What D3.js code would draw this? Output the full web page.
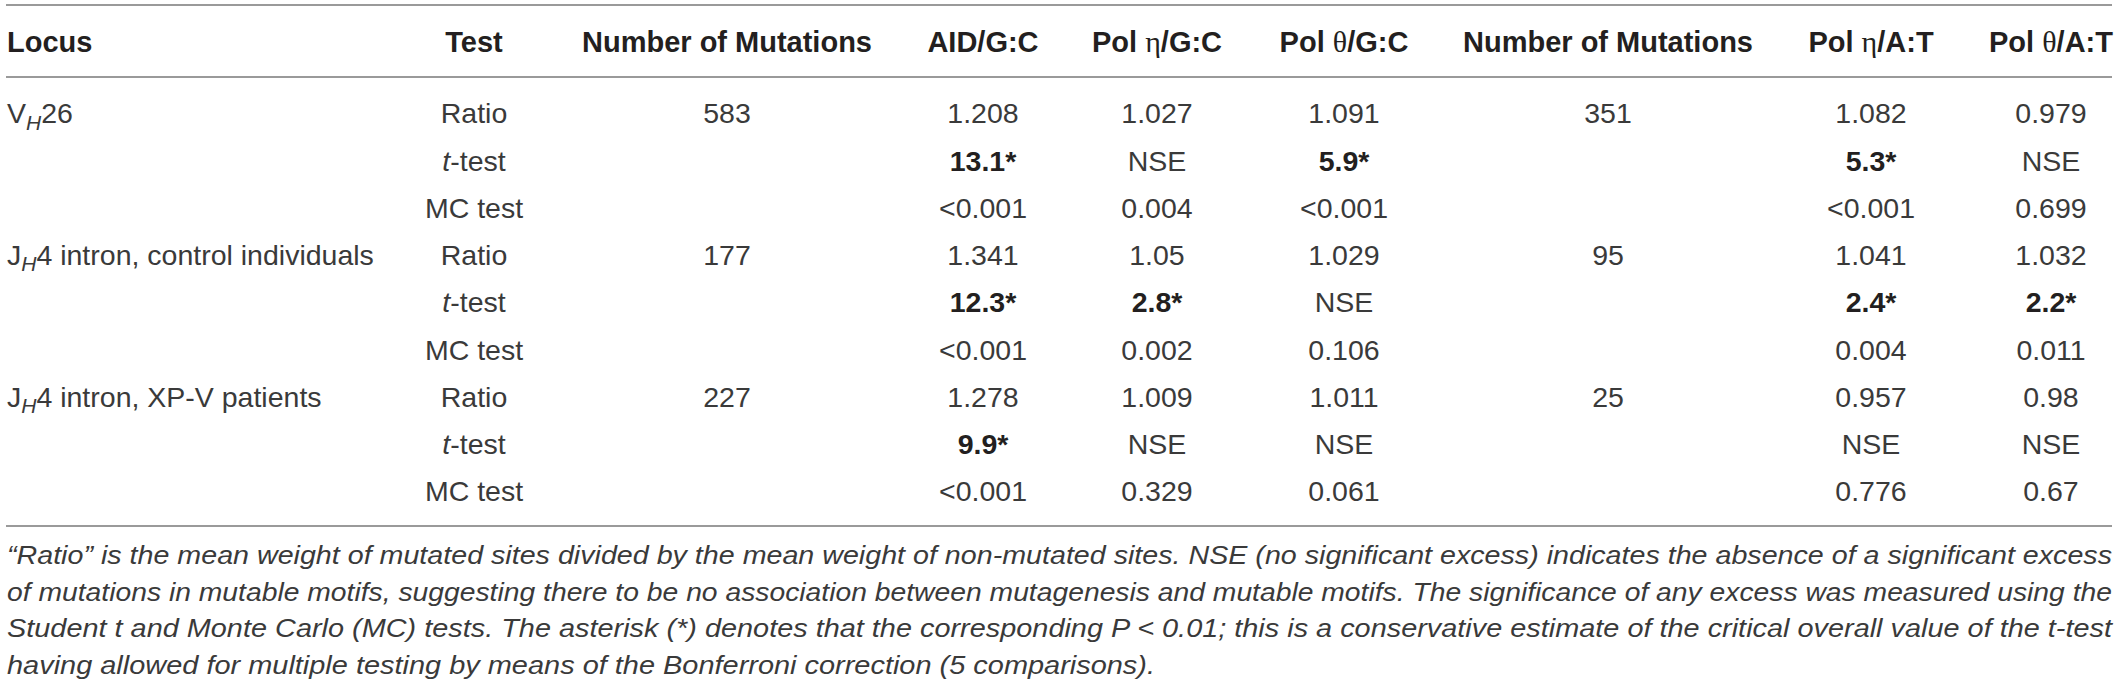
<!DOCTYPE html>
<html><head><meta charset="utf-8">
<script src="https://cdn.jsdelivr.net/npm/d3@7"></script>
<style>
html,body{margin:0;padding:0;background:#fff;}
svg{display:block;}
</style></head>
<body>
<script>
// ---------- data ----------
const headers = ["Locus","Test","Number of Mutations","AID/G:C","Pol η/G:C","Pol θ/G:C","Number of Mutations","Pol η/A:T","Pol θ/A:T"];
const loci = [["V","H","26"],["J","H","4 intron, control individuals"],["J","H","4 intron, XP-V patients"]];
const tests = ["Ratio","t-test","MC test"];
const mutationsGC = ["583","177","227"];
const mutationsAT = ["351","95","25"];
const aidGC      = ["1.208","13.1*","<0.001","1.341","12.3*","<0.001","1.278","9.9*","<0.001"];
const polEtaGC   = ["1.027","NSE","0.004","1.05","2.8*","0.002","1.009","NSE","0.329"];
const polThetaGC = ["1.091","5.9*","<0.001","1.029","NSE","0.106","1.011","NSE","0.061"];
const polEtaAT   = ["1.082","5.3*","<0.001","1.041","2.4*","0.004","0.957","NSE","0.776"];
const polThetaAT = ["0.979","NSE","0.699","1.032","2.2*","0.011","0.98","NSE","0.67"];
const footnote = [
 "\u201CRatio\u201D is the mean weight of mutated sites divided by the mean weight of non-mutated sites. NSE (no significant excess) indicates the absence of a significant excess",
 "of mutations in mutable motifs, suggesting there to be no association between mutagenesis and mutable motifs. The significance of any excess was measured using the",
 "Student t and Monte Carlo (MC) tests. The asterisk (*) denotes that the corresponding P < 0.01; this is a conservative estimate of the critical overall value of the t-test",
 "having allowed for multiple testing by means of the Bonferroni correction (5 comparisons)."
];

// ---------- layout ----------
const W = 2118, H = 687;
const svg = d3.select("body").append("svg").attr("width", W).attr("height", H);
const FONT = "'Liberation Sans', Arial, Helvetica, sans-serif";
const ink = "#231f20", inkLight = "#3a3a3a";

const colKeys = d3.range(headers.length);
const colX = d3.scaleOrdinal().domain(colKeys).range([7, 474, 727, 983, 1157, 1344, 1608, 1871, 2051]);
const rowY = d3.scalePoint().domain(d3.range(9)).range([113, 491]);
const headerY = 42;
const ruleX = [6, 2112];
const rules = [5, 77, 526];

svg.selectAll("line.rule").data(rules).join("line")
  .attr("x1", ruleX[0]).attr("x2", ruleX[1])
  .attr("y1", d => d).attr("y2", d => d)
  .attr("stroke", "#9a9a9a").attr("stroke-width", 2);

// header
const hdr = svg.selectAll("text.hdr").data(headers).join("text")
  .attr("x", (d,i) => colX(i)).attr("y", headerY).attr("dy", "0.36em")
  .attr("text-anchor", (d,i) => i === 0 ? "start" : "middle")
  .attr("font-family", FONT).attr("font-weight", "bold").attr("font-size", 29)
  .attr("fill", ink);
hdr.each(function(d){
  const t = d3.select(this);
  const m = d.match(/^(Pol )([ηθ])(\/.*)$/);
  if (m) {
    t.append("tspan").text(m[1]);
    t.append("tspan").attr("font-family","'Liberation Serif', 'DejaVu Serif', serif").attr("font-weight","normal").attr("font-size",30).text(m[2]);
    t.append("tspan").text(m[3]);
  } else t.text(d);
});

function cell(x, y, txt, anchor) {
  const bold = /\*$/.test(txt);
  return svg.append("text").attr("x", x).attr("y", y).attr("dy", "0.36em")
    .attr("text-anchor", anchor || "middle")
    .attr("font-family", FONT).attr("font-size", 28.5)
    .attr("font-weight", bold ? "bold" : "normal")
    .attr("fill", bold ? ink : inkLight)
    .text(txt);
}

// locus column
loci.forEach((L, g) => {
  const t = svg.append("text").attr("x", colX(0)).attr("y", rowY(g*3)).attr("dy","0.36em")
    .attr("font-family", FONT).attr("font-size", 28.5).attr("fill", inkLight);
  t.append("tspan").text(L[0]);
  t.append("tspan").attr("font-style","italic").attr("font-size",21).attr("dy","0.3em").text(L[1]);
  t.append("tspan").attr("dy","-0.22em").text(L[2]);
});

// test column
d3.range(9).forEach(r => {
  const name = tests[r % 3];
  const t = svg.append("text").attr("x", colX(1)).attr("y", rowY(r)).attr("dy","0.36em")
    .attr("text-anchor","middle").attr("font-family", FONT).attr("font-size", 28.5).attr("fill", inkLight);
  if (name === "t-test") {
    t.append("tspan").attr("font-style","italic").text("t");
    t.append("tspan").text("-test");
  } else t.text(name);
});

// mutation counts
mutationsGC.forEach((v,g) => cell(colX(2), rowY(g*3), v));
mutationsAT.forEach((v,g) => cell(colX(6), rowY(g*3), v));

// values
[[3, aidGC],[4, polEtaGC],[5, polThetaGC],[7, polEtaAT],[8, polThetaAT]].forEach(([c, arr]) => {
  arr.forEach((v, r) => cell(colX(c), rowY(r), v));
});

// footnote
const fnY = d3.scalePoint().domain(d3.range(footnote.length)).range([555, 665]);
svg.selectAll("text.fn").data(footnote).join("text")
  .attr("class","fn")
  .attr("x", 7).attr("y", (d,i) => fnY(i)).attr("dy","0.36em")
  .attr("font-family", FONT).attr("font-style","italic").attr("font-size", 25)
  .attr("fill", inkLight)
  .attr("textLength", (d,i) => i < 3 ? 2105 : 1148)
  .attr("lengthAdjust", "spacingAndGlyphs")
  .text(d => d);
</script>
</body></html>
